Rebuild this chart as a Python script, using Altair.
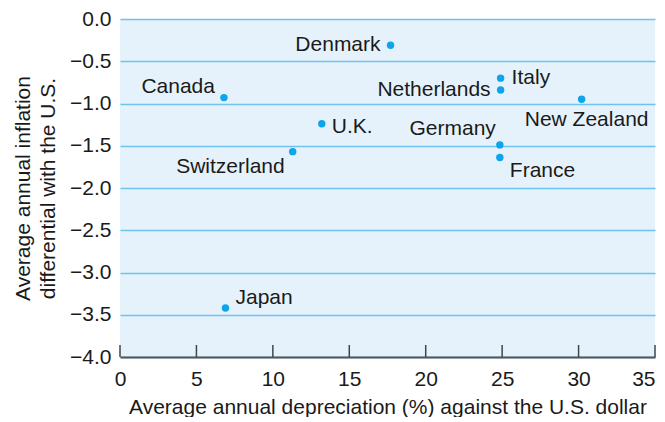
import altair as alt
import pandas as pd

countries = ["Denmark", "Italy", "Netherlands", "New Zealand", "U.K.",
             "Germany", "France", "Switzerland", "Canada", "Japan"]
depreciation = [17.7, 24.9, 24.9, 30.2, 13.2, 24.85, 24.85, 11.3, 6.8, 6.9]
inflation_diff = [-0.31, -0.70, -0.84, -0.95, -1.24, -1.49, -1.64, -1.57, -0.93, -3.42]

x_ticks = [0, 5, 10, 15, 20, 25, 30, 35]
y_ticks = [0.0, -0.5, -1.0, -1.5, -2.0, -2.5, -3.0, -3.5, -4.0]

df = pd.DataFrame({"country": countries, "dep": depreciation, "inf": inflation_diff})
ticks_df = pd.DataFrame({"t": x_ticks})

FONT = "Liberation Sans"
FS = 21
W, H = 535, 338

xscale = alt.Scale(domain=[0, 35], nice=False, zero=False)
yscale = alt.Scale(domain=[-4, 0], nice=False, zero=False)

# label style: align, dx, dy
label_style = {
    "Denmark": ("right", -10, 0),
    "Italy": ("left", 11, 0),
    "Netherlands": ("right", -10, 0),
    "New Zealand": ("center", 5, 21),
    "U.K.": ("left", 10, 3),
    "Germany": ("right", -4, -16),
    "France": ("left", 10, 13),
    "Switzerland": ("right", -8, 15),
    "Canada": ("right", -9, -11),
    "Japan": ("left", 10, -10),
}

base = alt.Chart(df)

points = base.mark_circle(size=55, color="#0aa5ec", opacity=1).encode(
    x=alt.X("dep:Q", scale=xscale,
            axis=alt.Axis(title="Average annual depreciation (%) against the U.S. dollar",
                          values=x_ticks, format="d", grid=False, ticks=False,
                          domain=True, domainColor="#555555", domainWidth=2,
                          labelPadding=11, titlePadding=7, labelFlush=False,
                          labelAlign={"condition": {"test": "datum.value >= 35", "value": "right"},
                                      "value": "center"},
                          labelFont=FONT, titleFont=FONT, labelFontSize=FS, titleFontSize=FS,
                          labelColor="#1a1a1a", titleColor="#1a1a1a", titleFontWeight="normal")),
    y=alt.Y("inf:Q", scale=yscale,
            axis=alt.Axis(title=["Average annual inflation", "differential with the U.S."],
                          values=y_ticks, format=".1f", grid=True, gridColor="#6cc4ee",
                          gridWidth=1.5, ticks=False, domain=False,
                          labelPadding=9, titlePadding=11, titleLineHeight=25,
                          labelFont=FONT, titleFont=FONT, labelFontSize=FS, titleFontSize=FS,
                          labelColor="#1a1a1a", titleColor="#1a1a1a", titleFontWeight="normal")),
)

tick_rules = alt.Chart(ticks_df).mark_rule(color="#444444", strokeWidth=1.5).encode(
    x=alt.X("t:Q", scale=xscale),
    y=alt.value(H),
    y2=alt.value(H - 12),
)

layers = [points, tick_rules]
for c in countries:
    align, dx, dy = label_style[c]
    layers.append(
        base.transform_filter(alt.datum.country == c).mark_text(
            align=align, baseline="middle", dx=dx, dy=dy,
            font=FONT, fontSize=FS, color="#1a1a1a"
        ).encode(x=alt.X("dep:Q", scale=xscale), y=alt.Y("inf:Q", scale=yscale), text="country:N")
    )

chart = alt.layer(*layers).properties(
    width=W, height=H,
    background="white",
    autosize=alt.AutoSizeParams(type="none"),
    padding={"left": 112, "top": 11, "right": 2, "bottom": 60},
).configure_view(
    fill="#e6f2fb", stroke=None
)

chart.save("out.html", embed_options={"renderer": "svg", "actions": False})
